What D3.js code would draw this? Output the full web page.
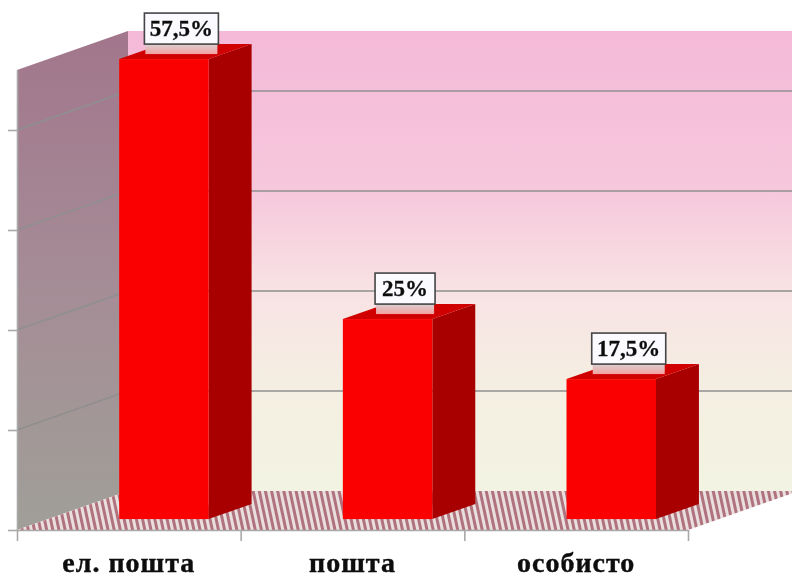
<!DOCTYPE html>
<html>
<head>
<meta charset="utf-8">
<script src="https://cdn.jsdelivr.net/npm/d3@7"></script>
<style>
  html, body { margin: 0; padding: 0; background: #fff; }
  svg { display: block; }
  text { font-family: "Liberation Serif", serif; font-weight: bold; fill: #111; }
  .cat text { font-size: 28px; letter-spacing: 1px; stroke: #111; stroke-width: 0.4px; }
  .val { font-size: 23px; stroke: #111; stroke-width: 0.3px; }
</style>
</head>
<body>
<script>
var categories = ['ел. пошта', 'пошта', 'особисто'];
var values = [57.5, 25, 17.5];
var valueLabels = ['57,5%', '25%', '17,5%'];
var gridValues = [0, 12.5, 25, 37.5, 50];
var axisMax = 57.5;

var w = 792, h = 578;
var depth = { x: 111, y: -39 };     // floor depth, front to back wall
var barFront = 0.28, barBack = 0.667; // where the bars sit inside that depth

var x = d3.scaleBand().domain(categories).range([17, 688]).paddingInner(0.6).paddingOuter(0.3);
var xEdges = d3.scaleLinear().domain([0, categories.length]).range([17, 688]);
var y = d3.scaleLinear().domain([0, axisMax]).range([530, 70]);

var svg = d3.select('body').append('svg').attr('width', w).attr('height', h);
var defs = svg.append('defs');

var backGrad = defs.append('linearGradient').attr('id', 'backGrad').attr('x1', 0).attr('x2', 0).attr('y1', 0).attr('y2', 1);
[['0%', '#f4b9d8'], ['35%', '#f6c8dc'], ['56%', '#f8e2e4'], ['78%', '#f4efe2'], ['100%', '#f2f3e2']].forEach(function(s) {
  backGrad.append('stop').attr('offset', s[0]).attr('stop-color', s[1]);
});

var sideGrad = defs.append('linearGradient').attr('id', 'sideGrad').attr('x1', 0).attr('x2', 0).attr('y1', 0).attr('y2', 1);
sideGrad.append('stop').attr('offset', '0%').attr('stop-color', '#a2768c');
sideGrad.append('stop').attr('offset', '50%').attr('stop-color', '#a58c96');
sideGrad.append('stop').attr('offset', '100%').attr('stop-color', '#a09f98');

var stripes = defs.append('pattern').attr('id', 'stripes').attr('patternUnits', 'userSpaceOnUse')
  .attr('width', 6).attr('height', 6).attr('patternTransform', 'rotate(-12)');
stripes.append('rect').attr('width', 6).attr('height', 6).attr('fill', '#eadfdf');
stripes.append('rect').attr('width', 3).attr('height', 6).attr('fill', '#b0727c');

var shadow = defs.append('linearGradient').attr('id', 'labelShadow').attr('x1', 0).attr('x2', 0).attr('y1', 0).attr('y2', 1);
shadow.append('stop').attr('offset', '0%').attr('stop-color', '#d8d0d0');
shadow.append('stop').attr('offset', '100%').attr('stop-color', '#f4a0a0');

var blur = defs.append('filter').attr('id', 'soft');
blur.append('feGaussianBlur').attr('stdDeviation', 0.6);

var chart = svg.append('g').attr('filter', 'url(#soft)');

function pts(list) {
  return list.map(function(p) { return p[0] + ',' + p[1]; }).join(' ');
}

var x0 = xEdges(0), x1 = xEdges(categories.length);

// back wall
chart.append('polygon')
  .attr('points', pts([[x0 + depth.x, y(axisMax) + depth.y], [w + 20, y(axisMax) + depth.y], [w + 20, y(0) + depth.y], [x0 + depth.x, y(0) + depth.y]]))
  .attr('fill', 'url(#backGrad)');

// left wall
chart.append('polygon')
  .attr('points', pts([[x0, y(axisMax)], [x0 + depth.x, y(axisMax) + depth.y], [x0 + depth.x, y(0) + depth.y], [x0, y(0)]]))
  .attr('fill', 'url(#sideGrad)');

// floor
chart.append('polygon')
  .attr('points', pts([[x0, y(0)], [x1, y(0)], [x1 + depth.x, y(0) + depth.y], [x0 + depth.x, y(0) + depth.y]]))
  .attr('fill', 'url(#stripes)');

// grid lines, skip the floor
var grid = chart.append('g');
grid.selectAll('.back').data(gridValues.slice(1)).enter().append('line')
  .attr('x1', x0 + depth.x).attr('x2', w)
  .attr('y1', function(d) { return y(d) + depth.y; })
  .attr('y2', function(d) { return y(d) + depth.y; })
  .attr('stroke', '#8f8f8f').attr('stroke-width', 1.6);
grid.selectAll('.side').data(gridValues.slice(1)).enter().append('line')
  .attr('x1', x0).attr('x2', x0 + depth.x)
  .attr('y1', function(d) { return y(d); })
  .attr('y2', function(d) { return y(d) + depth.y; })
  .attr('stroke', '#8f8f8f').attr('stroke-width', 1.4);

// axes
var yAxis = chart.append('g').attr('transform', 'translate(' + x0 + ',0)')
  .call(d3.axisLeft(y).tickValues(gridValues).tickSizeInner(9).tickSizeOuter(0).tickFormat(''));
var xAxis = chart.append('g').attr('transform', 'translate(0,' + y(0) + ')')
  .call(d3.axisBottom(xEdges).tickValues(d3.range(categories.length + 1)).tickSizeInner(11).tickSizeOuter(0).tickFormat(''));
[yAxis, xAxis].forEach(function(a) {
  a.selectAll('path, line').attr('stroke', '#a9a9a9').attr('stroke-width', 1.6);
});

// bars
var bars = chart.selectAll('.bar').data(values).enter().append('g').attr('class', 'bar');
var offX = depth.x * barFront + 4, offY = depth.y * barFront;
var dX = depth.x * (barBack - barFront), dY = depth.y * (barBack - barFront);

function barX(i) { return x(categories[i]) + offX; }

bars.append('polygon').attr('fill', '#a80000').attr('points', function(d, i) {
  var l = barX(i) + x.bandwidth(), t = y(d) + offY, b = y(0) + offY;
  return pts([[l, t], [l + dX, t + dY], [l + dX, b + dY], [l, b]]);
});
bars.append('polygon').attr('fill', '#d00000').attr('points', function(d, i) {
  var l = barX(i), r = l + x.bandwidth(), t = y(d) + offY;
  return pts([[l, t], [r, t], [r + dX, t + dY], [l + dX, t + dY]]);
});
bars.append('rect').attr('fill', '#fb0000')
  .attr('x', function(d, i) { return barX(i); })
  .attr('y', function(d) { return y(d) + offY; })
  .attr('width', x.bandwidth())
  .attr('height', function(d) { return y(0) - y(d); });

// value labels
var labels = chart.selectAll('.label').data(values).enter().append('g').attr('class', 'label')
  .attr('transform', function(d, i) {
    return 'translate(' + (barX(i) + x.bandwidth() / 2 + dX / 2 - 4) + ',' + (y(d) + offY - 31) + ')';
  });
labels.append('rect')
  .attr('x', function(d, i) { return i === 1 ? -29 : -36; })
  .attr('width', function(d, i) { return i === 1 ? 58 : 72; })
  .attr('y', 16).attr('height', 10)
  .attr('fill', 'url(#labelShadow)');
labels.append('rect')
  .attr('x', function(d, i) { return i === 1 ? -30 : -37; })
  .attr('width', function(d, i) { return i === 1 ? 60 : 74; })
  .attr('y', -15).attr('height', 31)
  .attr('fill', '#fbfbff').attr('stroke', '#444').attr('stroke-width', 1.6);
labels.append('text').attr('class', 'val')
  .attr('text-anchor', 'middle').attr('y', 8)
  .text(function(d, i) { return valueLabels[i]; });

// category labels
var catAxis = chart.append('g').attr('class', 'cat').attr('transform', 'translate(0,' + y(0) + ')')
  .call(d3.axisBottom(x).tickSize(0).tickPadding(21.8));
catAxis.select('.domain').remove();
catAxis.selectAll('text').attr('font-family', null).attr('font-size', null).attr('fill', null);
</script>
</body>
</html>
